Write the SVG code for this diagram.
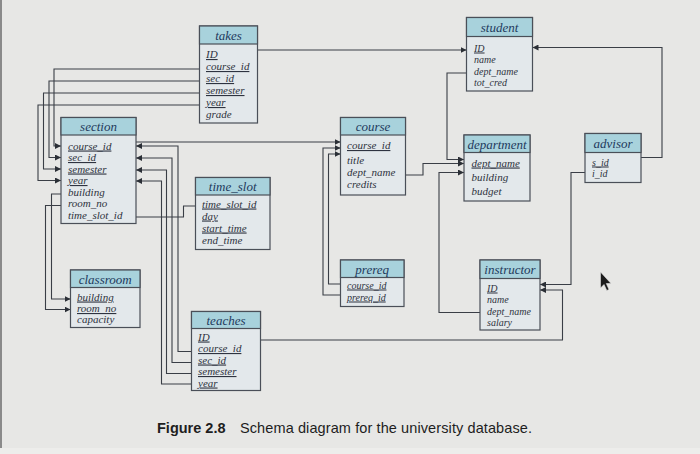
<svg xmlns="http://www.w3.org/2000/svg" width="700" height="454" viewBox="0 0 700 454">
<defs>
<marker id="ah" markerUnits="userSpaceOnUse" markerWidth="7" markerHeight="6" refX="6" refY="3" orient="auto">
<path d="M0,0 L6,3 L0,6 Z" fill="#2b2f36"/>
</marker>
<style>
.bg{fill:#e7e7e5}
.hdr{fill:#a8d2dc;stroke:#4a4f58;stroke-width:1.2}
.body{fill:#e3e8eb;stroke:#4a4f58;stroke-width:1.2}
.title{font-family:"Liberation Serif",serif;font-style:italic;font-size:13px;fill:#1f3a5c;text-anchor:middle}
.f{font-family:"Liberation Serif",serif;font-style:italic;font-size:11px;fill:#2e3340}
.fs{font-size:10px}
.pk{text-decoration:underline}
.conn path{fill:none;stroke:#3a3e46;stroke-width:1.1}
.arr{marker-end:url(#ah)}
.cap{font-family:"Liberation Sans",Arial,sans-serif;font-size:14.5px;fill:#1e1e1e}
</style>
</defs>
<rect class="bg" x="0" y="0" width="700" height="454"/>
<rect x="0" y="0" width="2" height="454" fill="#8a8a8a"/>
<rect x="0" y="448" width="700" height="6" fill="#ededeb"/>

<g id="connectors" class="conn">
<!-- takes -> section -->
<path class="arr" d="M199.5,69 H54 V146 H61"/>
<path class="arr" d="M199.5,81 H49 V157.5 H61"/>
<path class="arr" d="M199.5,93 H43.5 V169 H61"/>
<path class="arr" d="M199.5,105 H38 V180.5 H61"/>
<!-- takes -> student -->
<path class="arr" d="M257.5,50 H466.5"/>
<!-- section -> course -->
<path class="arr" d="M136,142 H340.5"/>
<!-- teaches -> section -->
<path class="arr" d="M191.5,351.5 H178 V146 H136"/>
<path class="arr" d="M191.5,362.5 H172 V158 H136"/>
<path class="arr" d="M191.5,373.5 H166.5 V170 H136"/>
<path class="arr" d="M191.5,384 H161.5 V181 H136"/>
<!-- section -> time_slot -->
<path d="M136,217 H183.5 V206 H195.5"/>
<!-- section -> classroom -->
<path class="arr" d="M61,194 H51.5 V299 H70.5"/>
<path class="arr" d="M61,205.5 H45.5 V309.5 H70.5"/>
<!-- prereq -> course -->
<path class="arr" d="M340.5,284 H328.5 V154 H340.5"/>
<path class="arr" d="M340.5,295 H323 V148 H340.5"/>
<!-- student -> department -->
<path class="arr" d="M466.5,73 H447 V159.5 H464"/>
<!-- course -> department -->
<path class="arr" d="M405.5,175 H423 V163.5 H464"/>
<!-- instructor -> department -->
<path class="arr" d="M480,312.5 H439 V172.5 H464"/>
<!-- advisor -> student -->
<path class="arr" d="M641,157.5 H662 V47.5 H532.5"/>
<!-- advisor -> instructor -->
<path class="arr" d="M585,172.5 H571 V284.5 H540"/>
<!-- teaches -> instructor -->
<path class="arr" d="M260.5,340 H562.5 V290 H540"/>
</g>

<g id="takes">
<rect class="body" x="199.5" y="26" width="58" height="97"/>
<rect class="hdr" x="199.5" y="26" width="58" height="18"/>
<text class="title" x="228.5" y="40">takes</text>
<text class="f pk" x="206" y="58">ID</text>
<text class="f pk" x="206" y="70">course_id</text>
<text class="f pk" x="206" y="82">sec_id</text>
<text class="f pk" x="206" y="94">semester</text>
<text class="f pk" x="206" y="106">year</text>
<text class="f" x="206" y="118">grade</text>
</g>

<g id="section">
<rect class="body" x="61" y="117.5" width="75" height="106"/>
<rect class="hdr" x="61" y="117.5" width="75" height="17.5"/>
<text class="title" x="98.5" y="131">section</text>
<text class="f pk" x="68" y="149.5">course_id</text>
<text class="f pk" x="68" y="161">sec_id</text>
<text class="f pk" x="68" y="172.5">semester</text>
<text class="f pk" x="68" y="184">year</text>
<text class="f" x="68" y="195.5">building</text>
<text class="f" x="68" y="207">room_no</text>
<text class="f" x="68" y="218.5">time_slot_id</text>
</g>

<g id="time_slot">
<rect class="body" x="195.5" y="177.5" width="74.5" height="72"/>
<rect class="hdr" x="195.5" y="177.5" width="74.5" height="17.5"/>
<text class="title" x="232.7" y="191">time_slot</text>
<text class="f pk" x="202" y="207.5">time_slot_id</text>
<text class="f pk" x="202" y="219.5">day</text>
<text class="f pk" x="202" y="231.5">start_time</text>
<text class="f" x="202" y="243.5">end_time</text>
</g>

<g id="classroom">
<rect class="body" x="70.5" y="270" width="69.5" height="57.5"/>
<rect class="hdr" x="70.5" y="270" width="69.5" height="17.5"/>
<text class="title" x="105.2" y="283.5">classroom</text>
<text class="f pk" x="77" y="300.5">building</text>
<text class="f pk" x="77" y="312">room_no</text>
<text class="f" x="77" y="323">capacity</text>
</g>

<g id="teaches">
<rect class="body" x="191.5" y="311.5" width="69" height="79"/>
<rect class="hdr" x="191.5" y="311.5" width="69" height="17"/>
<text class="title" x="226" y="325">teaches</text>
<text class="f pk" x="198" y="340.5">ID</text>
<text class="f pk" x="198" y="352">course_id</text>
<text class="f pk" x="198" y="363.5">sec_id</text>
<text class="f pk" x="198" y="375">semester</text>
<text class="f pk" x="198" y="386.5">year</text>
</g>

<g id="course">
<rect class="body" x="340.5" y="117.5" width="65" height="77.5"/>
<rect class="hdr" x="340.5" y="117.5" width="65" height="17.5"/>
<text class="title" x="373" y="131">course</text>
<text class="f pk" x="347" y="149">course_id</text>
<text class="f" x="347" y="164">title</text>
<text class="f" x="347" y="176">dept_name</text>
<text class="f" x="347" y="187.5">credits</text>
</g>

<g id="prereq">
<rect class="body" x="340.5" y="260" width="63.5" height="46.5"/>
<rect class="hdr" x="340.5" y="260" width="63.5" height="17.5"/>
<text class="title" x="372.2" y="273.5">prereq</text>
<text class="f fs pk" x="347" y="288.5">course_id</text>
<text class="f fs pk" x="347" y="300.5">prereq_id</text>
</g>

<g id="student">
<rect class="body" x="466.5" y="17.5" width="66" height="73.5"/>
<rect class="hdr" x="466.5" y="17.5" width="66" height="19"/>
<text class="title" x="499.5" y="31.5">student</text>
<text class="f fs pk" x="474" y="51.5">ID</text>
<text class="f fs" x="474" y="63">name</text>
<text class="f fs" x="474" y="74.5">dept_name</text>
<text class="f fs" x="474" y="86">tot_cred</text>
</g>

<g id="department">
<rect class="body" x="464" y="135" width="66" height="66"/>
<rect class="hdr" x="464" y="135" width="66" height="17.5"/>
<text class="title" x="497" y="148.5">department</text>
<text class="f pk" x="471.5" y="166.5">dept_name</text>
<text class="f" x="471.5" y="181">building</text>
<text class="f" x="471.5" y="195">budget</text>
</g>

<g id="advisor">
<rect class="body" x="585" y="133.5" width="56" height="49"/>
<rect class="hdr" x="585" y="133.5" width="56" height="19"/>
<text class="title" x="613" y="147.5">advisor</text>
<text class="f fs pk" x="592" y="165.5">s_id</text>
<text class="f fs" x="592" y="176.5">i_id</text>
</g>

<g id="instructor">
<rect class="body" x="480" y="260" width="60" height="70"/>
<rect class="hdr" x="480" y="260" width="60" height="18.5"/>
<text class="title" x="510" y="274">instructor</text>
<text class="f fs pk" x="487" y="291.5">ID</text>
<text class="f fs" x="487" y="303">name</text>
<text class="f fs" x="487" y="314.5">dept_name</text>
<text class="f fs" x="487" y="325.5">salary</text>
</g>

<path d="M600.5,272 L600.5,288 L604,284.5 L606.8,290.5 L609,289.5 L606.3,283.5 L611,283.5 Z" fill="#1c1c1c" stroke="#e0e0e0" stroke-width="0.6"/>

<text class="cap" x="157" y="433" font-weight="bold">Figure 2.8</text>
<text class="cap" x="240" y="433" textLength="292" lengthAdjust="spacing">Schema diagram for the university database.</text>
</svg>
